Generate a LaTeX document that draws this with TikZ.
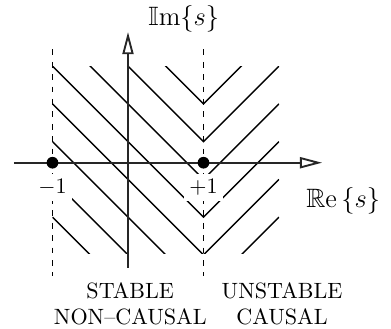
\documentclass[tikz,border=0pt]{standalone}
\usepackage{amsmath,amssymb}
\usetikzlibrary{arrows.meta}

\begin{document}
\begin{tikzpicture}[x=1.2cm, y=1.2cm,
  axis/.style={line width=0.85pt, black!85},
  hatch/.style={line width=0.6pt},
  cut/.style={dash pattern=on 2.6pt off 3pt, line width=0.65pt},
  pole/.style={circle, fill, inner sep=0pt, minimum size=5.3pt},
  tick/.style={fill=white, inner sep=2.5pt},
  region/.style={align=center, font=\normalsize},
  >={Triangle[open, length=10pt, width=5pt]}
]
  \useasboundingbox (-1.695,-2.189) rectangle (3.483,2.155);

  \begin{scope}
    \clip (-1,-1.2) rectangle (2,1.28);
    \foreach \k in {0,...,7}
      \draw[hatch] (-1,{\k/2-0.72}) -- (1,{\k/2-2.72}) -- (2,{\k/2-1.72});
  \end{scope}

  \coordinate (cutlt) at (-1,1.5);
  \coordinate (cutlb) at (-1,-1.5);
  \coordinate (cutrt) at (1,1.5);
  \coordinate (cutrb) at (1,-1.5);
  \draw[cut] (cutlt) -- (cutlb);
  \draw[cut] (cutrt) -- (cutrb);

  \coordinate (west) at (-1.51,0);
  \coordinate (east) at (2.57,0);
  \coordinate (south) at (0,-1.39);
  \coordinate (north) at (0,1.73);
  \draw[axis,->] (west) -- (east);
  \draw[axis,->] (south) -- (north);

  \node[tick] (minus) at (-1,-0.33) {$-1$};
  \node[tick] (plus) at (1,-0.33) {$+1$};
  \node[pole] (polel) at (-1,0) {};
  \node[pole] (poler) at (1,0) {};

  \node[font=\large] (im) at (0.74,1.90) {$\mathbb{I}\mathrm{m}\{s\}$};
  \node[font=\large] (re) at (2.85,-0.51) {$\mathbb{R}\mathrm{e}\,\{s\}$};
  \node[region] (stable) at (0.03,-1.87) {STABLE\\NON--CAUSAL};
  \node[region] (unstable) at (2.04,-1.87) {UNSTABLE\\CAUSAL};
\end{tikzpicture}
\end{document}
